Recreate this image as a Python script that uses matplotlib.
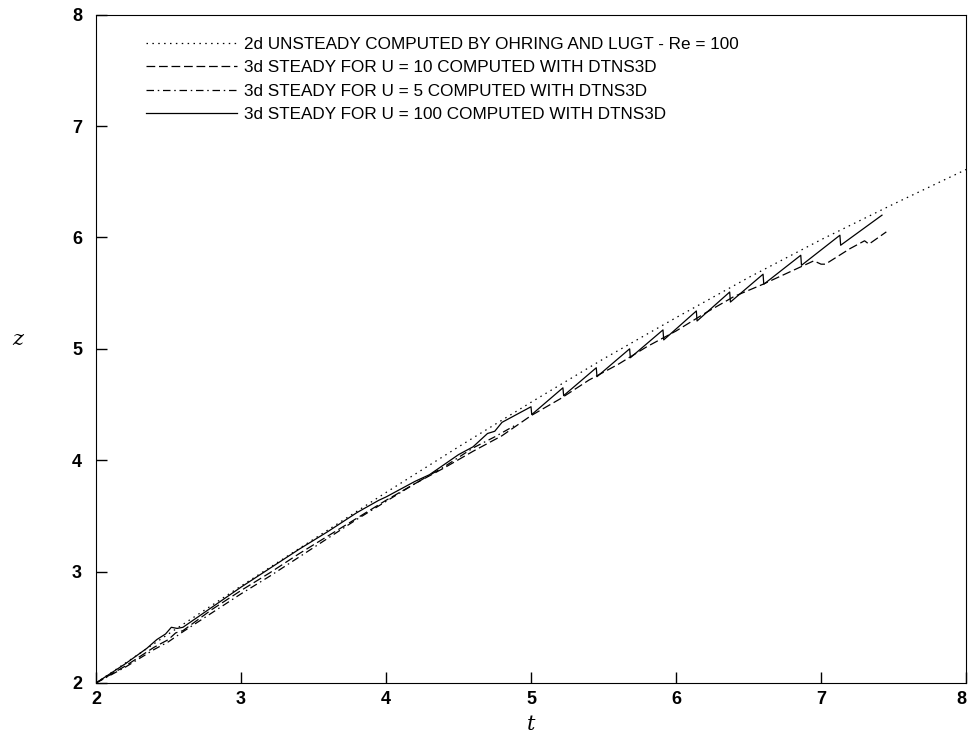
import matplotlib.pyplot as plt

# 2d unsteady, Ohring and Lugt (Re = 100)
t_2d = [2.0, 2.5, 3.0, 3.5, 4.0, 4.5, 5.0, 5.5, 6.0, 6.5, 7.0, 7.5, 8.0]
z_2d = [2.0, 2.44, 2.87, 3.29, 3.71, 4.12, 4.52, 4.91, 5.28, 5.64, 5.98, 6.30, 6.61]

# 3d steady, U = 10
t_u10 = [2.0, 2.2, 2.4, 2.5, 2.55, 2.6, 2.8, 3.0, 3.2, 3.4, 3.6, 3.8, 4.0, 4.2, 4.4,
         4.6, 4.8, 5.0, 5.2, 5.4, 5.6, 5.8, 6.0, 6.2, 6.4, 6.6, 6.8, 6.95, 7.0, 7.03,
         7.2, 7.3, 7.33, 7.45]
z_u10 = [2.0, 2.15, 2.32, 2.39, 2.45, 2.47, 2.66, 2.83, 2.99, 3.16, 3.32, 3.48, 3.64, 3.79, 3.93,
         4.08, 4.22, 4.40, 4.55, 4.72, 4.86, 5.02, 5.16, 5.32, 5.47, 5.58, 5.70, 5.79, 5.76, 5.76,
         5.90, 5.97, 5.94, 6.05]

# 3d steady, U = 5
t_u5 = [2.0, 2.2, 2.4, 2.5, 2.6, 2.8, 3.0, 3.2, 3.4, 3.6, 3.8, 4.0, 4.2, 4.4, 4.6, 4.75, 4.9]
z_u5 = [2.0, 2.14, 2.30, 2.37, 2.46, 2.63, 2.80, 2.96, 3.13, 3.30, 3.47, 3.63, 3.79, 3.94, 4.11, 4.21, 4.32]

# 3d steady, U = 100
t_u100 = [2.0, 2.2, 2.35, 2.42, 2.48, 2.52, 2.56, 2.6, 2.8, 3.0, 3.2, 3.4, 3.6, 3.8, 3.95,
          4.0, 4.1, 4.2, 4.3, 4.4, 4.5, 4.6, 4.7, 4.75, 4.8,
          5.0, 5.005, 5.22, 5.225, 5.45, 5.455, 5.68, 5.685, 5.91, 5.915,
          6.14, 6.145, 6.37, 6.375, 6.6, 6.605, 6.86, 6.865, 7.13, 7.135, 7.42]
z_u100 = [2.0, 2.17, 2.31, 2.39, 2.44, 2.50, 2.49, 2.50, 2.68, 2.86, 3.03, 3.20, 3.36, 3.53, 3.64,
          3.67, 3.74, 3.81, 3.87, 3.96, 4.05, 4.12, 4.24, 4.26, 4.34,
          4.48, 4.41, 4.65, 4.58, 4.83, 4.75, 5.00, 4.92, 5.17, 5.08,
          5.34, 5.25, 5.51, 5.42, 5.67, 5.58, 5.84, 5.75, 6.02, 5.93, 6.20]

labels = ['2d UNSTEADY COMPUTED BY OHRING AND LUGT - Re = 100',
          '3d STEADY FOR U = 10 COMPUTED WITH DTNS3D',
          '3d STEADY FOR U = 5 COMPUTED WITH DTNS3D',
          '3d STEADY FOR U = 100 COMPUTED WITH DTNS3D']

fig = plt.figure(figsize=(9.69, 7.34), dpi=100)
ax = fig.add_axes([0.099, 0.0695, 0.898, 0.9105])

ax.plot(t_2d, z_2d, color='black', lw=0.9, linestyle=(0, (1.2, 3.5)), label=labels[0])
ax.plot(t_u10, z_u10, color='black', lw=0.9, linestyle=(0, (7, 3)), label=labels[1])
ax.plot(t_u5, z_u5, color='black', lw=0.9, linestyle=(0, (6, 3, 1.2, 3)), label=labels[2])
ax.plot(t_u100, z_u100, color='black', lw=0.9, linestyle='-', label=labels[3])

ax.set_xlim(2, 8)
ax.set_ylim(2, 8)
ax.set_xticks([2, 3, 4, 5, 6, 7, 8])
ax.set_yticks([2, 3, 4, 5, 6, 7, 8])
ax.tick_params(direction='in', length=8, width=1, top=False, right=False)
ax.tick_params(axis='x', pad=6)
ax.tick_params(axis='y', pad=10)
for lab in ax.get_xticklabels() + ax.get_yticklabels():
    lab.set_fontfamily('Liberation Sans')
    lab.set_fontweight('bold')
    lab.set_fontsize(13)
ax.get_xticklabels()[-1].set_horizontalalignment('right')

ax.set_xlabel('t', fontfamily='DejaVu Serif', fontstyle='italic', fontsize=15)
ax.xaxis.set_label_coords(0.5, -0.048)
ax.set_ylabel('z', fontfamily='DejaVu Serif', fontstyle='italic', fontsize=15, rotation=0)
ax.yaxis.set_label_coords(-0.09, 0.5)

leg = ax.legend(loc='upper left', bbox_to_anchor=(0.04, 0.99), frameon=False,
                handlelength=5.3, handletextpad=0.45, labelspacing=0.5,
                prop={'family': 'Liberation Sans', 'size': 12.3})

fig.savefig('out.png', dpi=100)
